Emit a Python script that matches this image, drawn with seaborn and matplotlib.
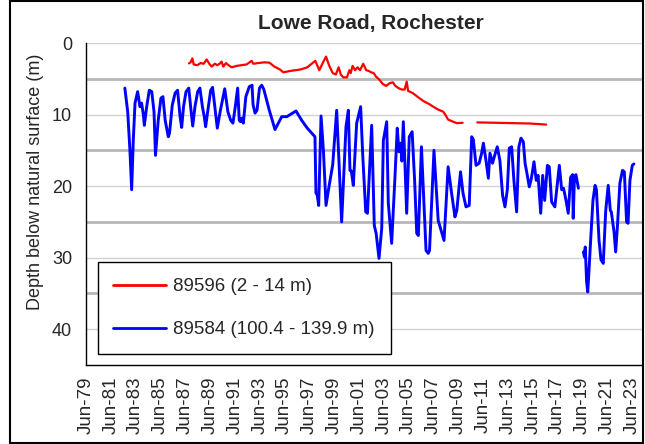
import numpy as np
import pandas as pd
import matplotlib
matplotlib.use("Agg")
import matplotlib.pyplot as plt
from matplotlib.lines import Line2D
from matplotlib.patches import Rectangle
from matplotlib.ticker import FixedLocator, MultipleLocator
import seaborn as sns

# ---------------- data (decimal years, depth in m) ----------------
title = "Lowe Road, Rochester"
ylabel = "Depth below natural surface (m)"
red_label = "89596 (2 - 14 m)"
blue_label = "89584 (100.4 - 139.9 m)"

red_seg1_year = [1987.72, 1987.85, 1987.99, 1988.10, 1988.40, 1988.65, 1988.90, 1989.14, 1989.35,
                 1989.55, 1989.80, 1990.00, 1990.22, 1990.35, 1990.48, 1990.70, 1990.90, 1991.16,
                 1991.55, 1991.95, 1992.35, 1992.77, 1992.90, 1993.30, 1993.80, 1994.20, 1994.60,
                 1995.05, 1995.32, 1995.90, 1996.70, 1997.25, 1997.60, 1997.90, 1998.22, 1998.55,
                 1998.76, 1999.00, 1999.30, 1999.55, 1999.78, 1999.95, 2000.15, 2000.45, 2000.64,
                 2000.75, 2000.90, 2001.10, 2001.30, 2001.50, 2001.76, 2002.00, 2002.20, 2002.40,
                 2002.60, 2002.79, 2003.05, 2003.32, 2003.60, 2003.90, 2004.15, 2004.35, 2004.60,
                 2004.85, 2005.10, 2005.26, 2005.38, 2005.75, 2006.20, 2006.60, 2007.14, 2007.40,
                 2007.80, 2008.20, 2008.40, 2008.60, 2009.00, 2009.29, 2009.77]
red_seg1_depth = [2.85, 2.7, 2.15, 3.0, 3.1, 2.8, 2.9, 2.3, 2.9,
                  3.3, 2.9, 3.1, 2.85, 2.6, 3.3, 2.8, 3.1, 3.4,
                  3.2, 3.1, 3.0, 2.5, 2.9, 2.8, 2.7, 2.75, 3.3,
                  3.7, 4.1, 3.9, 3.7, 3.4, 2.9, 2.5, 3.8, 2.6,
                  1.9, 3.1, 4.2, 4.4, 3.4, 4.4, 4.8, 4.8, 3.8,
                  4.2, 3.2, 3.8, 3.4, 3.8, 2.9, 3.8, 3.9, 4.1,
                  4.2, 4.7, 5.1, 5.7, 6.0, 5.6, 5.5, 6.0, 6.3,
                  6.5, 6.5, 5.4, 6.7, 7.0, 7.6, 8.1, 8.6, 8.9,
                  9.3, 9.6, 10.1, 10.7, 11.0, 11.2, 11.15]
red_seg2_year = [2010.95, 2012.50, 2015.20, 2016.50]
red_seg2_depth = [11.1, 11.15, 11.25, 11.4]

blue_seg1_year = [1982.55, 1982.78, 1982.96, 1983.10, 1983.23, 1983.37, 1983.58, 1983.77, 1983.90,
                  1984.04, 1984.12, 1984.31, 1984.52, 1984.72, 1984.90, 1985.02, 1985.24, 1985.46,
                  1985.62, 1985.80, 1986.05, 1986.15, 1986.37, 1986.60, 1986.80, 1987.00, 1987.13,
                  1987.28, 1987.48, 1987.70, 1987.88, 1988.02, 1988.20, 1988.42, 1988.60, 1988.80,
                  1988.95, 1989.06, 1989.24, 1989.47, 1989.62, 1989.80, 1990.00, 1990.25, 1990.60,
                  1990.85, 1991.08, 1991.26, 1991.45, 1991.64, 1991.77, 1991.87, 1991.97, 1992.10,
                  1992.30, 1992.58, 1992.80, 1992.88, 1993.04, 1993.20, 1993.40, 1993.58, 1993.75,
                  1994.19, 1994.65, 1995.19, 1995.60, 1996.34, 1996.80, 1997.25, 1997.87, 1997.95,
                  1998.05, 1998.17, 1998.36, 1998.55, 1998.76, 1998.95, 1999.30, 1999.62, 1999.75,
                  2000.02, 2000.37, 2000.56, 2000.69, 2000.80, 2000.96, 2001.23, 2001.55, 2001.72,
                  2001.96, 2002.10, 2002.44, 2002.65, 2002.80, 2003.03, 2003.25, 2003.38, 2003.65,
                  2003.78, 2004.05, 2004.32, 2004.50, 2004.64, 2004.77, 2004.87, 2004.99, 2005.12,
                  2005.26, 2005.47, 2005.70, 2005.90, 2006.07, 2006.20, 2006.45, 2006.82, 2007.00,
                  2007.10, 2007.46, 2007.80, 2008.27, 2008.60, 2008.88, 2009.15, 2009.30, 2009.60,
                  2009.80, 2010.04, 2010.30, 2010.50, 2010.63, 2010.85, 2011.10, 2011.30, 2011.44,
                  2011.65, 2011.84, 2011.97, 2012.18, 2012.37, 2012.56, 2012.77, 2012.99, 2013.18,
                  2013.37, 2013.53, 2013.72, 2013.90, 2014.12, 2014.30, 2014.47, 2014.66, 2014.80,
                  2014.95, 2015.14, 2015.30, 2015.52, 2015.70, 2015.85, 2016.06, 2016.22, 2016.38,
                  2016.60, 2016.75, 2016.94, 2017.20, 2017.56, 2017.75, 2017.90, 2018.10, 2018.28,
                  2018.47, 2018.63, 2018.68, 2018.78, 2018.90, 2019.10]
blue_seg1_depth = [6.3, 9.6, 15.0, 20.5, 13.6, 8.4, 6.8, 8.9, 8.4,
                   10.0, 11.5, 8.9, 6.6, 6.8, 9.6, 15.7, 10.8, 7.7,
                   7.5, 10.8, 13.1, 12.6, 8.7, 7.0, 6.6, 10.3, 11.8,
                   8.9, 6.8, 6.3, 9.4, 11.6, 8.9, 6.8, 6.3, 8.9,
                   10.3, 11.7, 9.4, 6.6, 6.2, 8.9, 11.9, 9.4, 6.4,
                   9.6, 10.8, 11.2, 8.9, 6.3, 10.8, 11.0, 10.5, 11.2,
                   7.5, 6.1, 5.9, 8.6, 9.8, 9.4, 6.3, 5.9, 6.5,
                   9.4, 12.1, 10.3, 10.3, 9.5, 10.8, 11.9, 13.1, 21.0,
                   21.2, 22.7, 10.2, 15.0, 22.7, 20.6, 17.0, 9.4, 14.5,
                   25.0, 11.7, 9.4, 17.8, 17.9, 19.9, 11.2, 8.9, 15.7,
                   23.6, 23.8, 11.5, 25.5, 26.6, 30.1, 25.9, 13.6, 11.0,
                   22.4, 28.0, 18.6, 11.9, 15.2, 14.0, 16.5, 11.0, 16.8,
                   23.8, 13.1, 12.4, 19.2, 26.6, 26.9, 14.5, 29.0, 29.4,
                   29.0, 15.0, 24.8, 27.6, 17.3, 21.0, 24.3, 23.4, 18.0,
                   21.0, 22.9, 22.7, 13.1, 13.5, 17.1, 16.8, 15.4, 14.0,
                   16.4, 18.9, 15.4, 16.8, 15.6, 14.5, 16.4, 21.3, 22.9,
                   20.5, 14.7, 14.5, 19.2, 23.6, 14.5, 13.3, 13.8, 16.8,
                   18.2, 20.1, 19.0, 16.6, 19.2, 18.5, 23.8, 18.5, 22.0,
                   17.1, 17.3, 22.2, 22.9, 17.1, 20.5, 20.3, 22.0, 23.8,
                   18.8, 18.4, 24.5, 18.6, 18.4, 20.3]
blue_seg2_year = [2019.50, 2019.58, 2019.65, 2019.76, 2019.85, 2019.95, 2020.10, 2020.27, 2020.44,
                  2020.55, 2020.76, 2020.92, 2021.10, 2021.30, 2021.50, 2021.67, 2021.75, 2021.97,
                  2022.10, 2022.25, 2022.44, 2022.65, 2022.80, 2022.98, 2023.10, 2023.25, 2023.44,
                  2023.57]
blue_seg2_depth = [29.2, 29.9, 28.5, 33.4, 34.8, 31.8, 27.1, 22.0, 19.9,
                   20.5, 27.6, 30.3, 30.8, 23.4, 19.9, 23.4, 23.6, 26.4,
                   29.2, 25.4, 19.6, 17.8, 18.0, 25.0, 25.2, 19.2, 17.1,
                   16.9]

x_tick_labels = ["Jun-79", "Jun-81", "Jun-83", "Jun-85", "Jun-87", "Jun-89", "Jun-91", "Jun-93",
                 "Jun-95", "Jun-97", "Jun-99", "Jun-01", "Jun-03", "Jun-05", "Jun-07", "Jun-09",
                 "Jun-11", "Jun-13", "Jun-15", "Jun-17", "Jun-19", "Jun-21", "Jun-23"]
first_tick_year = 1979.42
y_ticks = [0, 10, 20, 30, 40]

# ---------------- build tables ----------------
red_df = pd.DataFrame({
    "year": red_seg1_year + red_seg2_year,
    "depth": red_seg1_depth + red_seg2_depth,
    "seg": [1] * len(red_seg1_year) + [2] * len(red_seg2_year),
})
blue_df = pd.DataFrame({
    "year": blue_seg1_year + blue_seg2_year,
    "depth": blue_seg1_depth + blue_seg2_depth,
    "seg": [1] * len(blue_seg1_year) + [2] * len(blue_seg2_year),
})

# ---------------- style ----------------
sns.set_style("white")
plt.rcParams["font.family"] = ["Liberation Sans", "DejaVu Sans"]

W, H = 645, 444
fig = plt.figure(figsize=(W / 100, H / 100), dpi=100)
L, R, T, B = 86, 642, 43, 365
ax = fig.add_axes([L / W, 1 - B / H, (R - L) / W, (B - T) / H])

sns.lineplot(data=blue_df, x="year", y="depth", units="seg", estimator=None, sort=False,
             color="#0000ff", lw=2.1, ax=ax, legend=False, zorder=3)
sns.lineplot(data=red_df, x="year", y="depth", units="seg", estimator=None, sort=False,
             color="#ff0000", lw=1.6, ax=ax, legend=False, zorder=3)

ax.set_xlim(first_tick_year, first_tick_year + (R - L) / 12.41)
ax.set_ylim(45, 0)

# y axis
ax.yaxis.set_major_locator(FixedLocator(y_ticks))
ax.yaxis.set_minor_locator(FixedLocator([5, 15, 25, 35]))
ax.yaxis.grid(True, which="major", color="#d2d2d2", lw=1.0, zorder=0)
ax.yaxis.grid(True, which="minor", color="#b8b8b8", lw=2.0, zorder=0)
ax.tick_params(axis="y", which="major", direction="out", length=5, width=1, color="black",
               labelsize=13, pad=5)
ax.tick_params(axis="y", which="minor", length=0)

# x axis
major_x = [first_tick_year + 2 * i for i in range(len(x_tick_labels))]
minor_x = [first_tick_year + 1 + 2 * i for i in range(len(x_tick_labels))]
ax.xaxis.set_major_locator(FixedLocator(major_x))
ax.xaxis.set_minor_locator(FixedLocator(minor_x))
ax.set_xticklabels(x_tick_labels, rotation=90)
ax.tick_params(axis="x", which="major", direction="inout", length=9, width=1, color="black",
               labelsize=13.5, pad=4)
ax.tick_params(axis="x", which="minor", direction="out", length=4, width=1, color="black")
ax.xaxis.grid(False)

for s in ["top", "right"]:
    ax.spines[s].set_visible(False)
for s in ["left", "bottom"]:
    ax.spines[s].set_color("black")
    ax.spines[s].set_linewidth(1.0)

ax.set_xlabel("")
ax.set_ylabel(ylabel, fontsize=13)
ax.yaxis.set_label_coords((44 - L) / (R - L), (B - 181.5) / (B - T), transform=ax.transAxes)

fig.text(371 / W, 1 - 24 / H, title, ha="center", va="center", fontsize=15, fontweight="bold")

handles = [Line2D([], [], color="#ff0000", lw=2.0), Line2D([], [], color="#0000ff", lw=2.0)]
leg = ax.legend(handles, [red_label, blue_label], loc="upper left",
                bbox_to_anchor=(97.5 / W, 1 - 262 / H), bbox_transform=fig.transFigure,
                borderaxespad=0, fontsize=13.5, handlelength=2.8, handletextpad=0.4,
                labelspacing=1.4, borderpad=0.85, frameon=True, fancybox=False,
                framealpha=1, edgecolor="black", facecolor="white")
leg.get_frame().set_linewidth(1.0)
leg.set_zorder(10)

fig.patches.append(Rectangle((10 / W, 1 / H), (643 - 10) / W, (443 - 1) / H,
                             transform=fig.transFigure, fill=False, edgecolor="black", lw=1.5))

fig.savefig("out.png", dpi=100)
